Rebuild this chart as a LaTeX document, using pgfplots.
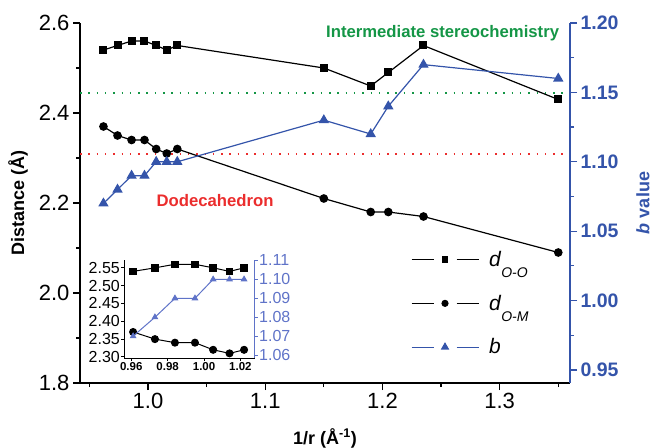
\documentclass[border=0pt]{standalone}
\usepackage{fontspec}
\setmainfont{Liberation Sans}
\usepackage{pgfplots}
\usepackage{pgfplotstable}
\pgfplotsset{compat=1.18}
\definecolor{mblue}{RGB}{52,84,170}
\definecolor{iblue}{RGB}{95,115,200}
\definecolor{mgreen}{RGB}{20,150,70}
\definecolor{mred}{RGB}{235,45,45}
\newcommand{\fs}[1]{\fontsize{#1}{#1}\selectfont}

\pgfplotstableread{
x     doo   dom   b
0.962 2.54  2.37  1.07
0.974 2.55  2.35  1.08
0.986 2.56  2.34  1.09
0.997 2.56  2.34  1.09
1.007 2.55  2.32  1.10
1.016 2.54  2.31  1.10
1.025 2.55  2.32  1.10
1.150 2.50  2.21  1.13
1.190 2.46  2.18  1.12
1.205 2.49  2.18  1.14
1.235 2.55  2.17  1.17
1.350 2.43  2.09  1.16
}\maindata

\pgfplotstableread{
x     doo   dom   b
0.961 2.54  2.37  1.07
0.973 2.55  2.35  1.08
0.984 2.56  2.34  1.09
0.995 2.56  2.34  1.09
1.005 2.55  2.32  1.10
1.014 2.54  2.31  1.10
1.022 2.55  2.32  1.10
}\insetdata

\begin{document}
\begin{tikzpicture}[x=1pt,y=1pt]
\useasboundingbox (0,0) rectangle (652,447);
\pgfplotsset{
  base/.style={scale only axis, width=490pt, height=360pt, at={(80pt,64pt)}, anchor=south west,
    xmin=0.942, xmax=1.36, tick align=outside, major tick length=7pt, minor tick length=4pt,
    /pgf/number format/assume math mode=true, clip=false},
  legimg/.style={legend image code/.code={
     \draw[##1,mark=none] (0pt,0pt) -- (22pt,0pt);
     \draw[##1,mark=none] (45pt,0pt) -- (67pt,0pt);
     \draw[##1] plot coordinates {(33.5pt,0pt)};}}
}
% left main axis
\begin{axis}[base, ymin=1.8, ymax=2.6,
  axis x line*=bottom, axis y line*=left,
  axis line style={line width=1.4pt, black},
  every tick/.style={line width=1.2pt, black},
  xtick={1.0,1.1,1.2,1.3}, minor xtick={0.95,1.05,1.15,1.25,1.35},
  ytick={1.8,2.0,2.2,2.4,2.6}, minor ytick={1.9,2.1,2.3,2.5},
  x tick label style={/pgf/number format/.cd, fixed, fixed zerofill, precision=1, /tikz/.cd, font=\fs{22}},
  y tick label style={/pgf/number format/.cd, fixed, fixed zerofill, precision=1, /tikz/.cd, font=\fs{22}},
  xlabel={1/r (Å\textsuperscript{-1})}, ylabel={Distance (Å)},
  label style={font=\fs{18}\bfseries},
  xlabel style={at={(axis description cs:0.5,-0.153)}, anchor=center},
  ylabel style={at={(axis description cs:-0.1265,0.5)}, anchor=center},
]
\addplot[mgreen, line width=1.5pt, dash pattern=on 1.5pt off 6.8pt] coordinates {(0.942,2.4444) (1.36,2.4444)};
\addplot[mred, line width=1.5pt, dash pattern=on 1.5pt off 6.8pt] coordinates {(0.942,2.309) (1.36,2.309)};
\addplot[black, line width=1.2pt, mark=square*, mark size=3.4pt] table[x=x,y=doo]{\maindata};
\addplot[black, line width=1.2pt, mark=*, mark size=3.7pt] table[x=x,y=dom]{\maindata};
\node[mgreen, font=\fs{16.7}\bfseries, anchor=east] at (rel axis cs:0.985,0.972) {Intermediate stereochemistry};
\node[mred, font=\fs{16.7}\bfseries, anchor=center] at (rel axis cs:0.2755,0.508) {Dodecahedron};
\end{axis}
% right main axis
\begin{axis}[base, ymin=0.9406, ymax=1.20,
  axis x line=none, axis y line*=right,
  axis line style={line width=1.4pt, mblue},
  every tick/.style={line width=1.2pt, mblue},
  ytick={0.95,1.00,1.05,1.10,1.15,1.20}, minor ytick={0.975,1.025,1.075,1.125,1.175},
  y tick label style={/pgf/number format/.cd, fixed, fixed zerofill, precision=2, /tikz/.cd, font=\fs{19.5}\bfseries, text=mblue},
  ylabel={\textit{b} value},
  ylabel style={font=\fs{18}\bfseries, text=mblue, at={(axis description cs:1.149,0.5)}, anchor=center},
  legend style={at={(axis description cs:0.675,0.372)}, anchor=north west, draw=none, fill=none,
    font=\fs{21}, row sep=23pt, column sep=8pt, inner sep=0pt, cells={anchor=west}},
  legimg,
]
\addlegendimage{black, line width=1.1pt, mark=square*, mark size=2.8pt}
\addlegendentry{\textit{d}\raisebox{-11pt}{\fs{14}\itshape O-O}}
\addlegendimage{black, line width=1.1pt, mark=*, mark size=3pt}
\addlegendentry{\textit{d}\raisebox{-11pt}{\fs{14}\itshape O-M}}
\addplot[mblue, line width=1.2pt, mark=triangle*, mark size=4.8pt, forget plot] table[x=x,y=b]{\maindata};
\addlegendimage{mblue, line width=1.1pt, mark=triangle*, mark size=3.8pt}
\addlegendentry{\textit{b}}
\end{axis}
% inset left
\begin{axis}[scale only axis, width=131pt, height=98pt, at={(124pt,89pt)}, anchor=south west,
  xmin=0.956, xmax=1.028, ymin=2.297, ymax=2.572,
  axis x line*=bottom, axis y line*=left, clip=false,
  axis line style={line width=1pt, black},
  every tick/.style={line width=0.9pt, black},
  tick align=outside, major tick length=3pt,
  /pgf/number format/assume math mode=true,
  xtick={0.96,0.98,1.00,1.02}, ytick={2.30,2.35,2.40,2.45,2.50,2.55},
  x tick label style={/pgf/number format/.cd, fixed, fixed zerofill, precision=2, /tikz/.cd, font=\fs{11.5}\bfseries, inner sep=1pt},
  y tick label style={/pgf/number format/.cd, fixed, fixed zerofill, precision=2, /tikz/.cd, font=\fs{16}, inner sep=1pt},
]
\addplot[black, line width=1pt, mark=square*, mark size=3.2pt] table[x=x,y=doo]{\insetdata};
\addplot[black, line width=1pt, mark=*, mark size=3.5pt] table[x=x,y=dom]{\insetdata};
\end{axis}
% inset right
\begin{axis}[scale only axis, width=131pt, height=98pt, at={(124pt,89pt)}, anchor=south west,
  xmin=0.956, xmax=1.028, ymin=1.0585, ymax=1.1102,
  axis x line=none, axis y line*=right, clip=false,
  axis line style={line width=1pt, iblue},
  every tick/.style={line width=0.9pt, iblue},
  tick align=outside, major tick length=3pt,
  /pgf/number format/assume math mode=true,
  ytick={1.06,1.07,1.08,1.09,1.10,1.11},
  y tick label style={/pgf/number format/.cd, fixed, fixed zerofill, precision=2, /tikz/.cd, font=\fs{16}, text=iblue, inner sep=1pt},
]
\addplot[iblue, line width=1pt, mark=triangle*, mark size=3pt] table[x=x,y=b]{\insetdata};
\end{axis}
\end{tikzpicture}
\end{document}
